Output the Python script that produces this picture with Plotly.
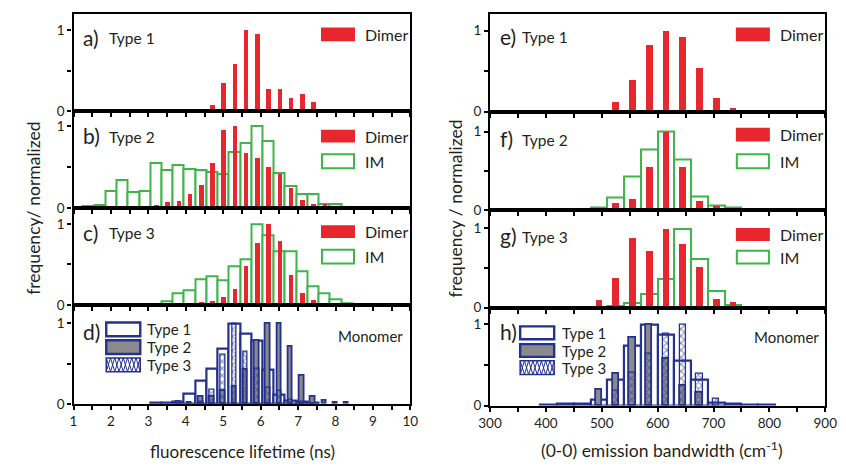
import plotly.graph_objects as go

W, H = 846, 476
RED = "#e8262d"
GREEN = "#3db54a"
BLUE = "#24318f"
GRAY = "#8a8a8a"
FONT = "Lato"

# ---------------- data: left (fluorescence lifetime, ns) ----------------
a_dimer_x = [4.4, 4.7, 5.0, 5.3, 5.6, 5.9, 6.2, 6.5, 6.8, 7.1, 7.4, 7.7]
a_dimer_y = [0.02, 0.08, 0.35, 0.58, 1.0, 0.96, 0.27, 0.27, 0.17, 0.21, 0.11, 0.02]

b_dimer_x = [2.9, 3.2, 3.5, 3.8, 4.1, 4.4, 4.7, 5.0, 5.3, 5.6, 5.9, 6.2, 6.5, 6.8, 7.1, 7.4, 7.7, 8.0]
b_dimer_y = [0.03, 0.04, 0.07, 0.09, 0.17, 0.28, 0.55, 0.95, 1.0, 0.67, 0.61, 0.5, 0.41, 0.24, 0.10, 0.05, 0.05, 0.03]
b_im_x = [1.4, 1.7, 2.0, 2.3, 2.6, 2.9, 3.2, 3.5, 3.8, 4.1, 4.4, 4.7, 5.0, 5.3, 5.6, 5.9, 6.2, 6.5, 6.8, 7.1, 7.4, 7.7, 8.0]
b_im_y = [0.02, 0.04, 0.21, 0.34, 0.19, 0.21, 0.55, 0.47, 0.52, 0.48, 0.46, 0.44, 0.41, 0.68, 0.80, 1.0, 0.82, 0.43, 0.27, 0.17, 0.17, 0.05, 0.05]

c_dimer_x = [3.5, 3.8, 4.1, 4.4, 4.7, 5.0, 5.3, 5.6, 5.9, 6.2, 6.5, 6.8, 7.1, 7.4]
c_dimer_y = [0.02, 0.01, 0.01, 0.03, 0.05, 0.09, 0.20, 0.48, 0.76, 1.0, 0.79, 0.37, 0.14, 0.06]
c_im_x = [3.2, 3.5, 3.8, 4.1, 4.4, 4.7, 5.0, 5.3, 5.6, 5.9, 6.2, 6.5, 6.8, 7.1, 7.4, 7.7, 8.0, 8.3]
c_im_y = [0.01, 0.05, 0.14, 0.18, 0.32, 0.35, 0.30, 0.48, 0.57, 1.0, 0.87, 0.66, 0.66, 0.42, 0.23, 0.14, 0.07, 0.02]

d_t1_x = [3.2, 3.5, 3.8, 4.1, 4.4, 4.7, 5.0, 5.3, 5.6, 5.9, 6.2, 6.5, 6.8, 7.1, 7.4]
d_t1_y = [0.01, 0.01, 0.03, 0.12, 0.29, 0.44, 0.68, 1.0, 0.87, 0.78, 0.42, 0.11, 0.04, 0.02, 0.01]
d_t2_x = [3.8, 4.1, 4.4, 4.7, 5.0, 5.3, 5.6, 5.9, 6.2, 6.5, 6.8, 7.1, 7.4, 7.7, 8.0, 8.3]
d_t2_y = [0.02, 0.01, 0.09, 0.09, 0.16, 0.21, 0.42, 0.78, 0.99, 1.0, 0.71, 0.35, 0.09, 0.04, 0.01, 0.01]
d_t3_x = [4.4, 4.7, 5.0, 5.3, 5.6, 5.9, 6.2, 6.5, 6.8, 7.1]
d_t3_y = [0.03, 0.18, 0.61, 1.0, 0.65, 0.44, 0.20, 0.16, 0.05, 0.02]

# ---------------- data: right (0-0 emission bandwidth, cm-1) ----------------
e_dimer_x = [495, 525, 555, 585, 615, 645, 675, 705, 735, 765]
e_dimer_y = [0.02, 0.12, 0.39, 0.82, 1.0, 0.93, 0.54, 0.17, 0.05, 0.02]

f_dimer_x = [495, 525, 555, 585, 615, 645, 675, 705, 735, 765, 795]
f_dimer_y = [0.02, 0.10, 0.15, 0.55, 1.0, 0.56, 0.12, 0.06, 0.03, 0.02, 0.02]
f_im_x = [495, 525, 555, 585, 615, 645, 675, 705, 735, 765, 795]
f_im_y = [0.03, 0.16, 0.42, 0.77, 1.0, 0.64, 0.17, 0.06, 0.03, 0.01, 0.01]

g_dimer_x = [495, 525, 555, 585, 615, 645, 675, 705, 735, 765, 795]
g_dimer_y = [0.10, 0.38, 0.88, 0.72, 1.0, 0.80, 0.51, 0.11, 0.07, 0.02, 0.01]
g_im_x = [465, 495, 525, 555, 585, 615, 645, 675, 705, 735, 765]
g_im_y = [0.005, 0.01, 0.02, 0.06, 0.18, 0.37, 1.0, 0.62, 0.21, 0.04, 0.01]

h_t1_x = [405, 435, 465, 495, 525, 555, 585, 615, 645, 675, 705, 735, 765, 795]
h_t1_y = [0.005, 0.02, 0.02, 0.07, 0.32, 0.74, 1.0, 0.87, 0.55, 0.32, 0.04, 0.02, 0.01, 0.01]
h_t2_x = [495, 525, 555, 585, 615, 645, 675]
h_t2_y = [0.19, 0.39, 0.83, 1.0, 0.58, 0.25, 0.16]
h_t3_x = [525, 555, 585, 615, 645, 675, 705]
h_t3_y = [0.18, 0.40, 0.64, 0.88, 1.0, 0.39, 0.09]

left_ticks = [1, 2, 3, 4, 5, 6, 7, 8, 9, 10]
right_ticks = [300, 400, 500, 600, 700, 800, 900]
y_ticks = [0, 1]


def PX(x):
    return x / W


def PY(y):
    return 1 - y / H


fig = go.Figure()

# panel geometry in pixels (top, bottom) and y-range max
left_panels = [(14, 113, 1.203), (113, 211.7, 1.186), (211.7, 310, 1.199), (310, 410.7, 1.232)]
right_panels = [(14, 113.5, 1.208), (113.5, 213.5, 1.258), (213.5, 313, 1.234), (313, 412.5, 1.203)]

layout_axes = {}
for i in range(8):
    left = i < 4
    top, bot, ymax = (left_panels[i] if left else right_panels[i - 4])
    xa = "xaxis" if i == 0 else f"xaxis{i+1}"
    ya = "yaxis" if i == 0 else f"yaxis{i+1}"
    bottom = (i == 3 or i == 7)
    layout_axes[xa] = dict(
        domain=[PX(63.3), PX(410)] if left else [PX(492), PX(837)],
        range=[1, 10] if left else [300, 900],
        anchor=f"y{i+1}" if i > 0 else "y",
        showline=True, linecolor="black", linewidth=2.2, mirror=True,
        ticks="outside", ticklen=4, tickwidth=1.5, tickcolor="black",
        tickmode="array", tickvals=left_ticks if left else right_ticks,
        minor=dict(ticks="outside", ticklen=4, tickwidth=1.5, tickcolor="black",
                   dtick=0.5 if left else 50, tick0=1 if left else 300, showgrid=False),
        showticklabels=bottom, showgrid=False, zeroline=False,
        tickfont=dict(family=FONT, size=13.5, color="#231f20"),
    )
    layout_axes[ya] = dict(
        domain=[PY(bot), PY(top)],
        range=[0, ymax],
        anchor=f"x{i+1}" if i > 0 else "x",
        showline=True, linecolor="black", linewidth=2.2, mirror=True,
        ticks="outside", ticklen=4, tickwidth=1.5, tickcolor="black",
        tickmode="array", tickvals=y_ticks,
        minor=dict(ticks="outside", ticklen=4, tickwidth=1.5, tickcolor="black",
                   dtick=0.5, tick0=0, showgrid=False),
        showgrid=False, zeroline=False,
        tickfont=dict(family=FONT, size=13.5, color="#231f20"),
    )


def ax(i):
    return ("x" if i == 0 else f"x{i+1}"), ("y" if i == 0 else f"y{i+1}")


def red_bars(i, xs, ys, w):
    xr, yr = ax(i)
    fig.add_trace(go.Bar(x=xs, y=ys, width=w, marker=dict(color=RED, line=dict(width=0)),
                         xaxis=xr, yaxis=yr, showlegend=False))


def box_bars(i, xs, ys, w, color, lw):
    xr, yr = ax(i)
    fig.add_trace(go.Bar(x=xs, y=ys, width=w,
                         marker=dict(color="white", line=dict(color=color, width=lw)),
                         xaxis=xr, yaxis=yr, showlegend=False))


def gray_bars(i, xs, ys, w):
    xr, yr = ax(i)
    fig.add_trace(go.Bar(x=xs, y=ys, width=w,
                         marker=dict(color=GRAY, line=dict(color=BLUE, width=1.8)),
                         xaxis=xr, yaxis=yr, showlegend=False))


def hatch_bars(i, xs, ys, w):
    xr, yr = ax(i)
    fig.add_trace(go.Bar(x=xs, y=ys, width=w,
                         marker=dict(color="rgba(255,255,255,0)", line=dict(color=BLUE, width=1.3),
                                     pattern=dict(shape="x", fgcolor=BLUE, bgcolor="rgba(255,255,255,0)",
                                                  size=5, solidity=0.4, fillmode="overlay")),
                         xaxis=xr, yaxis=yr, showlegend=False))


# left column
red_bars(0, a_dimer_x, a_dimer_y, 0.12)
box_bars(1, b_im_x, b_im_y, 0.3, GREEN, 2)
red_bars(1, b_dimer_x, b_dimer_y, 0.12)
box_bars(2, c_im_x, c_im_y, 0.3, GREEN, 2)
red_bars(2, c_dimer_x, c_dimer_y, 0.12)
box_bars(3, d_t1_x, d_t1_y, 0.3, BLUE, 2.2)
gray_bars(3, d_t2_x, d_t2_y, 0.12)
hatch_bars(3, d_t3_x, d_t3_y, 0.12)
# right column
red_bars(4, e_dimer_x, e_dimer_y, 12)
box_bars(5, f_im_x, f_im_y, 30, GREEN, 2)
red_bars(5, f_dimer_x, f_dimer_y, 12)
box_bars(6, g_im_x, g_im_y, 30, GREEN, 2)
red_bars(6, g_dimer_x, g_dimer_y, 12)
box_bars(7, h_t1_x, h_t1_y, 30, BLUE, 2.2)
gray_bars(7, h_t2_x, h_t2_y, 11)
hatch_bars(7, h_t3_x, h_t3_y, 11)

shapes = []
ann = []


def rect(x0, y0, x1, y1, fill, line, lw):
    shapes.append(dict(type="rect", xref="paper", yref="paper",
                       x0=PX(x0), x1=PX(x1), y0=PY(y1), y1=PY(y0),
                       fillcolor=fill, line=dict(color=line, width=lw)))


def hatch_rect(x0, y0, x1, y1):
    rect(x0, y0, x1, y1, "white", BLUE, 1.5)
    n = 4
    step = (x1 - x0) / (2 * n)
    p1 = []
    p2 = []
    for k in range(2 * n + 1):
        xx = x0 + k * step
        p1.append((xx, y0 if k % 2 == 0 else y1))
        p2.append((xx, y1 if k % 2 == 0 else y0))
    for pts in (p1, p2):
        path = "M " + " L ".join(f"{PX(px):.5f},{PY(py):.5f}" for px, py in pts)
        shapes.append(dict(type="path", xref="paper", yref="paper", path=path,
                           line=dict(color=BLUE, width=1)))


def text(x, y, s, size, xanchor="left", angle=0):
    ann.append(dict(x=PX(x), y=PY(y), xref="paper", yref="paper", text=s, showarrow=False,
                    xanchor=xanchor, yanchor="middle", textangle=angle,
                    font=dict(family=FONT, size=size, color="#231f20")))


# panel labels
for lx, tx, ys, lab, typ in [
    (71, 98, 38, "a)", "Type 1"), (71, 98, 138, "b)", "Type 2"), (71, 98, 236, "c)", "Type 3"),
    (500, 523, 37, "e)", "Type 1"), (500, 523, 141, "f)", "Type 2"), (500, 523, 240, "g)", "Type 3")]:
    text(lx, ys, lab, 21)
    text(tx, ys + 1, typ, 15.5)
text(71, 337, "d)", 21)
text(500, 337, "h)", 21)

# dimer / IM legends
for xr0, xt, yd, yi in [(318, 361, (28, 42), None), (318, 361, (132, 145), (157, 171)),
                        (318, 361, (229, 242), (254, 268)),
                        (745, 788, (28, 42), None), (745, 788, (130, 144), (157, 171)),
                        (745, 788, (232, 245), (255, 268))]:
    rect(xr0, yd[0], xr0 + 35, yd[1], RED, RED, 0)
    text(xt, (yd[0] + yd[1]) / 2, "Dimer", 16)
    if yi:
        rect(xr0 + 1, yi[0], xr0 + 34, yi[1], "white", GREEN, 2)
        text(xt, (yi[0] + yi[1]) / 2, "IM", 16)

# monomer legends
for x0, xt, rows in [(97, 137, [(328, 342), (346, 360), (364, 378)]),
                     (523, 564, [(332, 345), (350, 363), (367, 381)])]:
    rect(x0, rows[0][0], x0 + 35, rows[0][1], "white", BLUE, 2.4)
    rect(x0, rows[1][0], x0 + 35, rows[1][1], GRAY, BLUE, 2.4)
    hatch_rect(x0, rows[2][0], x0 + 35, rows[2][1])
    for (r, lab) in zip(rows, ["Type 1", "Type 2", "Type 3"]):
        text(xt, (r[0] + r[1]) / 2, lab, 15)
text(404, 342, "Monomer", 15, xanchor="right")
text(833, 343, "Monomer", 15, xanchor="right")

# axis titles
text(237, 459, "fluorescence lifetime (ns)", 17, xanchor="center")
text(669, 457, "(0-0) emission bandwidth (cm<sup>-1</sup>)", 17.5, xanchor="center")
text(22, 212, "frequency/ normalized", 17.5, xanchor="center", angle=-90)
text(456, 212, "frequency / normalized", 17.5, xanchor="center", angle=-90)

fig.update_layout(
    width=W, height=H, margin=dict(l=0, r=0, t=0, b=0),
    paper_bgcolor="white", plot_bgcolor="white",
    barmode="overlay", bargap=0, showlegend=False,
    shapes=shapes, annotations=ann,
    font=dict(family=FONT, color="#231f20"),
    **layout_axes,
)

fig.write_html("out.html")
